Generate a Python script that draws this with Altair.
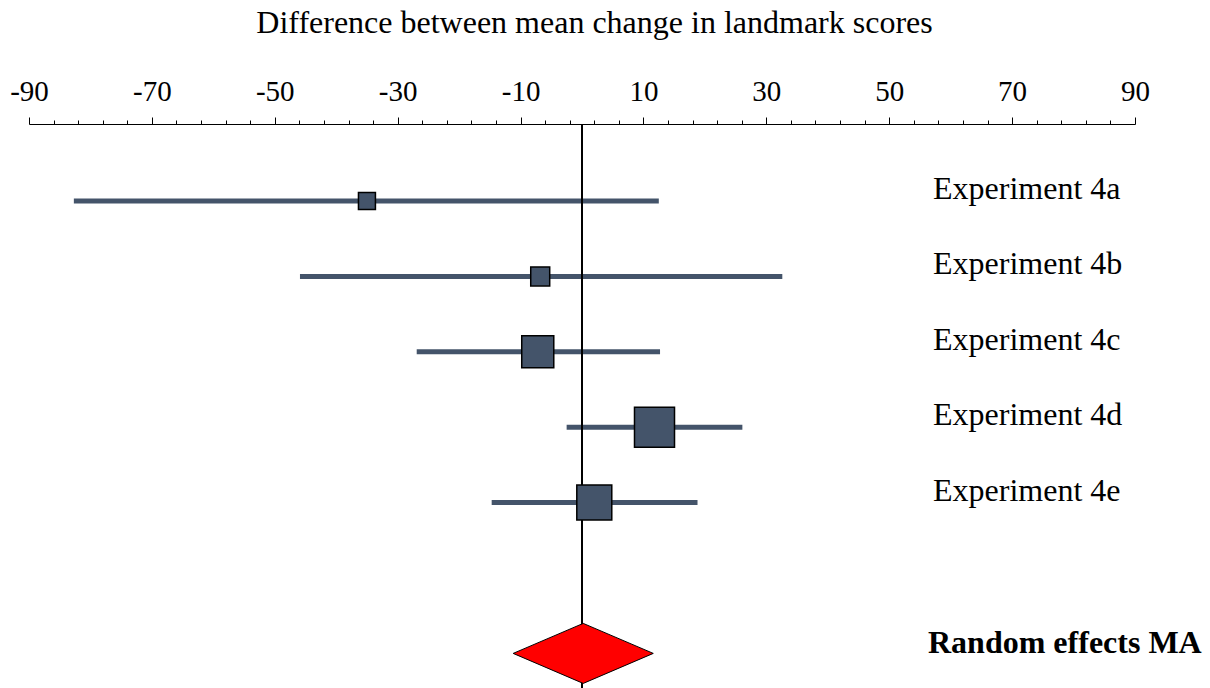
import altair as alt
import pandas as pd

# ---- data ----
studies = ["Experiment 4a", "Experiment 4b", "Experiment 4c", "Experiment 4d", "Experiment 4e"]
estimate = [-35.0, -6.8, -7.2, 11.8, 2.0]
lower = [-82.7, -45.9, -26.9, -2.5, -14.7]
upper = [12.5, 32.6, 12.7, 26.1, 18.8]
weight = [6.4, 8.0, 22.8, 35.6, 27.2]
row = [1, 2, 3, 4, 5]

ma_label = "Random effects MA"
ma_est = 0.2
ma_lower = -11.2
ma_upper = 11.6
ma_row = 7

W, H = 1106, 564
FONT = "Liberation Serif"
SLATE = "#44546A"

studies_df = pd.DataFrame({
    "study": studies, "est": estimate, "lo": lower, "hi": upper,
    "w": weight, "row": row,
})
ma_df = pd.DataFrame({"label": [ma_label], "row": [ma_row]})
half = 0.398
diamond_df = pd.DataFrame({
    "dx": [ma_lower, ma_est, ma_upper],
    "y1": [ma_row, ma_row - half, ma_row],
    "y2": [ma_row, ma_row + half, ma_row],
})
zero_df = pd.DataFrame({"v": [0]})

xscale = alt.Scale(domain=[-90, 90], nice=False, zero=False)
y0 = 1 - 77 / 75.4
yscale = alt.Scale(domain=[y0, y0 + H / 75.4], reverse=True, nice=False, zero=False)

major_test = "abs(datum.value) % 20 == 10"
xaxis = alt.Axis(
    orient="top",
    values=list(range(-90, 91, 4)),
    labelExpr=f"{major_test} ? '' + datum.value : ''",
    tickSize={"condition": {"test": major_test, "value": 7}, "value": 4},
    grid=False,
    labelOverlap=False,
    labelFlush=False,
    labelBound=False,
    domainColor="black", tickColor="black", domainWidth=1, tickWidth=1,
    labelFont=FONT, labelFontSize=29, labelColor="black", labelPadding=11,
    title="Difference between mean change in landmark scores",
    titleFont=FONT, titleFontSize=32, titleFontWeight="normal", titleColor="black",
    titleX=565, titleY=-92, titleBaseline="alphabetic", titleAlign="center",
)

ci = alt.Chart(studies_df).mark_rule(color=SLATE, strokeWidth=5).encode(
    x=alt.X("lo:Q", scale=xscale, axis=xaxis),
    x2="hi:Q",
    y=alt.Y("row:Q", scale=yscale, axis=None),
)

zero = alt.Chart(zero_df).mark_rule(color="black", strokeWidth=2).encode(
    x=alt.X("v:Q", scale=xscale, axis=xaxis),
    y=alt.value(0),
    y2=alt.value(H),
)

squares = alt.Chart(studies_df).mark_square(
    filled=True, color=SLATE, stroke="black", strokeWidth=1.5, opacity=1
).encode(
    x=alt.X("est:Q", scale=xscale, axis=xaxis),
    y=alt.Y("row:Q", scale=yscale, axis=None),
    size=alt.Size("w:Q", scale=alt.Scale(domain=[0, 100], range=[0, 4499]), legend=None),
)

labels = alt.Chart(studies_df).mark_text(
    align="left", baseline="alphabetic", dy=-2, font=FONT, fontSize=32, color="black"
).encode(
    x=alt.value(904),
    y=alt.Y("row:Q", scale=yscale, axis=None),
    text="study:N",
)

diamond = alt.Chart(diamond_df).mark_area(
    color="red", stroke="black", strokeWidth=1, orient="vertical", opacity=1
).encode(
    x=alt.X("dx:Q", scale=xscale, axis=xaxis),
    y=alt.Y("y1:Q", scale=yscale, axis=None),
    y2="y2:Q",
)

ma_text = alt.Chart(ma_df).mark_text(
    align="left", baseline="alphabetic", dy=0, font=FONT, fontSize=32,
    fontWeight="bold", color="black"
).encode(
    x=alt.value(899),
    y=alt.Y("row:Q", scale=yscale, axis=None),
    text="label:N",
)

chart = alt.layer(ci, zero, squares, diamond, labels, ma_text).properties(
    width=W, height=H,
    autosize=alt.AutoSizeParams(type="none"),
    padding={"left": 29, "top": 124, "right": 75, "bottom": 0},
    background="white",
).configure_view(stroke=None)

chart.save("out.html", embed_options={"renderer": "svg", "actions": False})
